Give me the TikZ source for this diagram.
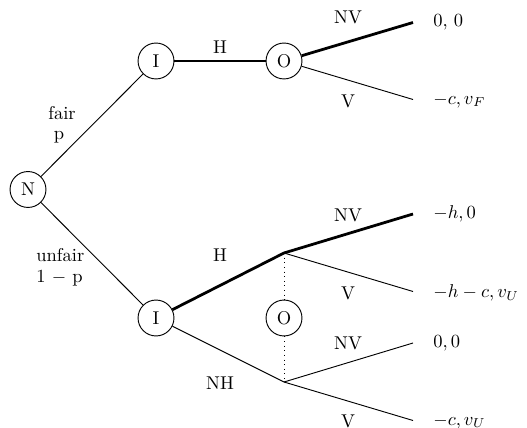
\documentclass[tikz,border=0pt]{standalone}
\begin{document}
\begin{tikzpicture}[x=0.54pt,y=-0.54pt,
  player/.style={circle,draw,line width=0.5pt,minimum size=19.4pt,inner sep=0pt},
  thin edge/.style={line width=0.5pt},
  thick edge/.style={line width=1.5pt,line join=round},
  lbl/.style={inner sep=0pt},
  pay/.style={inner sep=0pt,anchor=west}]
\useasboundingbox (0,0) rectangle (527,428);
\node[player] (N) at (28,189.5) {N};
\node[player] (I1) at (156,61) {I};
\node[player] (O1) at (284,61) {O};
\node[player] (I2) at (156,318) {I};
\node[player] (O2) at (284,318) {O};
\coordinate (B1) at (284,253);
\coordinate (B2) at (284,382);
\coordinate (E1) at (413,22.5);
\coordinate (E2) at (413,99.5);
\coordinate (E3) at (413,214);
\coordinate (E4) at (413,291.5);
\coordinate (E5) at (413,343);
\coordinate (E6) at (413,420.5);
% edges
\draw[thin edge] (N) -- (I1);
\draw[thin edge] (N) -- (I2);
\draw[thick edge] (I1) -- (O1);
\draw[thick edge] (O1) -- (E1);
\draw[thin edge] (O1) -- (E2);
\draw[thick edge] (I2) -- (B1) -- (E3);
\draw[thin edge] (B1) -- (E4);
\draw[thin edge] (I2) -- (B2);
\draw[thin edge] (B2) -- (E5);
\draw[thin edge] (B2) -- (E6);
\draw[thin edge,dotted] (B1) -- (O2);
\draw[thin edge,dotted] (O2) -- (B2);
% labels
\node[lbl] (lfair) at (62,113) {fair};
\node[lbl] (lp) at (59,137) {p};
\node[lbl,anchor=west] (lunfair) at (36,255) {unfair};
\node[lbl,anchor=west] (lq) at (36,278) {1 $-$ p};
\node[lbl] (lH1) at (220,47) {H};
\node[lbl] (lH2) at (220,255) {H};
\node[lbl] (lNH) at (220,383) {NH};
\node[lbl] (lNV1) at (348,17) {NV};
\node[lbl] (lV1) at (348,101) {V};
\node[lbl] (lNV2) at (348,215) {NV};
\node[lbl] (lV2) at (348,293) {V};
\node[lbl] (lNV3) at (348,343) {NV};
\node[lbl] (lV3) at (348,421) {V};
% payoffs
\node[pay] (p1) at (433,22) {0, 0};
\node[pay] (p2) at (433,100.5) {$-c, v_F$};
\node[pay] (p3) at (433,214) {$-h, 0$};
\node[pay] (p4) at (433,293) {$-h-c, v_U$};
\node[pay] (p5) at (433,343) {$0, 0$};
\node[pay] (p6) at (433,421.5) {$-c, v_U$};
\end{tikzpicture}
\end{document}
